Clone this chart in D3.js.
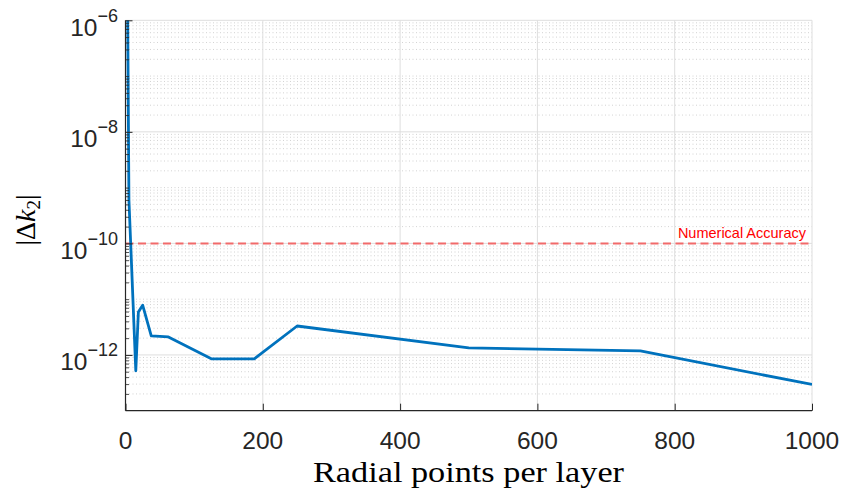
<!DOCTYPE html>
<html>
<head>
<meta charset="utf-8">
<script src="https://cdn.jsdelivr.net/npm/d3@7"></script>
<style>
  html, body { margin: 0; padding: 0; background: #fff; }
  svg { display: block; }
</style>
</head>
<body>
<div id="chart"></div>
<script>
// ---- data ----
const radialPoints = [1, 5, 15, 18.75, 25, 37.5, 62.5, 125, 187.5, 250, 500, 750, 1000];
const deltaK2 = [1e-2, 6e-10, 5.2e-13, 5.9e-12, 7.8e-12, 2.2e-12, 2.1e-12, 8.5e-13, 8.5e-13, 3.3e-12, 1.34e-12, 1.18e-12, 2.95e-13];
const xTicks = [0, 200, 400, 600, 800, 1000];
const yTickExps = [-12, -10, -8, -6];
const accuracyLevel = 1e-10;
const accuracyLabel = "Numerical Accuracy";
const xLabel = "Radial points per layer";

(function () {
const W = 845, H = 493;
const pL = 125.5, pR = 812, pT = 20.3, pB = 410.7;

const svg = d3.select("#chart").append("svg").attr("width", W).attr("height", H);

const x = d3.scaleLinear().domain([0, 1000]).range([pL, pR]);
const y = d3.scaleLog().domain([1e-13, 1e-6]).range([pB, pT]);

// minor grid values
const minorVals = [];
for (let e = -13; e < -6; e++) {
  for (let k = 1; k <= 9; k++) {
    const v = k * Math.pow(10, e);
    if (k === 1 && (yTickExps.includes(e) || e === -13)) continue;
    minorVals.push(v);
  }
}
const majorVals = yTickExps.map(e => Math.pow(10, e));

const grid = svg.append("g");
grid.selectAll("line.minor").data(minorVals).enter().append("line")
  .attr("x1", pL).attr("x2", pR)
  .attr("y1", d => y(d)).attr("y2", d => y(d))
  .attr("stroke", "#c8c8c8").attr("stroke-width", 0.8)
  .attr("stroke-dasharray", "1,2.5");
grid.selectAll("line.majy").data(majorVals).enter().append("line")
  .attr("x1", pL).attr("x2", pR)
  .attr("y1", d => y(d)).attr("y2", d => y(d))
  .attr("stroke", "#dedede").attr("stroke-width", 1);
grid.selectAll("line.majx").data(xTicks.filter(d => d > 0)).enter().append("line")
  .attr("x1", d => x(d)).attr("x2", d => x(d))
  .attr("y1", pT).attr("y2", pB)
  .attr("stroke", "#dedede").attr("stroke-width", 1);

// accuracy line
svg.append("line")
  .attr("x1", pL).attr("x2", pR)
  .attr("y1", y(accuracyLevel)).attr("y2", y(accuracyLevel))
  .attr("stroke", "#f26a6a").attr("stroke-width", 2)
  .attr("stroke-dasharray", "8,4.5");
svg.append("text")
  .attr("x", 806).attr("y", y(accuracyLevel) - 5)
  .attr("text-anchor", "end")
  .attr("font-family", "'Liberation Sans', Arial, sans-serif")
  .attr("font-size", 14.5).attr("fill", "#ff0000")
  .text(accuracyLabel);

// data line
svg.append("clipPath").attr("id", "clip").append("rect")
  .attr("x", pL).attr("y", pT).attr("width", pR - pL).attr("height", pB - pT);
const pts = radialPoints.map((d, i) => [d, deltaK2[i]]);
svg.append("path")
  .attr("clip-path", "url(#clip)")
  .attr("d", d3.line().x(d => x(d[0])).y(d => y(d[1]))(pts))
  .attr("fill", "none").attr("stroke", "#0072BD").attr("stroke-width", 2.8)
  .attr("stroke-linejoin", "round");

// axes
const axisColor = "#262626";
const xAxis = d3.axisBottom(x).tickValues(xTicks).tickSize(-7).tickPadding(0).tickFormat(() => "");
const gx = svg.append("g").attr("transform", `translate(0,${pB})`).call(xAxis);
gx.select(".domain").attr("stroke", axisColor).attr("stroke-width", 1.2).attr("d", `M${pL},0H${pR}`);
gx.selectAll(".tick line").attr("stroke", axisColor).attr("stroke-width", 1);

const yAxisMajor = d3.axisLeft(y).tickValues(majorVals).tickSize(-7).tickFormat(() => "");
const gy = svg.append("g").attr("transform", `translate(${pL},0)`).call(yAxisMajor);
gy.select(".domain").attr("stroke", axisColor).attr("stroke-width", 1.2).attr("d", `M0,${pT}V${pB}`);
gy.selectAll(".tick line").attr("stroke", axisColor).attr("stroke-width", 1);
const yAxisMinor = d3.axisLeft(y).tickValues(minorVals).tickSize(-3.5).tickFormat(() => "");
const gym = svg.append("g").attr("transform", `translate(${pL},0)`).call(yAxisMinor);
gym.select(".domain").remove();
gym.selectAll(".tick line").attr("stroke", axisColor).attr("stroke-width", 0.8);

// x tick labels
svg.append("g").selectAll("text").data(xTicks).enter().append("text")
  .attr("x", d => x(d)).attr("y", 449)
  .attr("text-anchor", "middle")
  .attr("font-family", "'Liberation Sans', Arial, sans-serif")
  .attr("font-size", 24.5).attr("fill", axisColor)
  .text(d => d);

// y tick labels
const yl = svg.append("g").selectAll("text").data(yTickExps).enter().append("text")
  .attr("x", 118).attr("y", d => y(Math.pow(10, d)) + 15.5)
  .attr("text-anchor", "end")
  .attr("font-family", "'Liberation Sans', Arial, sans-serif")
  .attr("fill", axisColor);
yl.append("tspan").attr("font-size", 24.5).text("10");
yl.append("tspan").attr("font-size", 18).attr("dy", -14).text(d => "\u2212" + Math.abs(d));

// x label
svg.append("text")
  .attr("x", 468.5).attr("y", 481.5)
  .attr("text-anchor", "middle")
  .attr("font-family", "'Liberation Serif', 'Times New Roman', serif")
  .attr("font-size", 28.5).attr("fill", "#000")
  .attr("textLength", 311).attr("lengthAdjust", "spacingAndGlyphs")
  .text(xLabel);

// y label |Δk2|
const ylab = svg.append("text")
  .attr("transform", "translate(35,220) rotate(-90)")
  .attr("text-anchor", "middle")
  .attr("font-family", "'Liberation Serif', 'Times New Roman', serif")
  .attr("font-size", 28).attr("fill", "#000");
ylab.append("tspan").text("|\u0394");
ylab.append("tspan").attr("font-style", "italic").text("k");
ylab.append("tspan").attr("font-size", 19).attr("dy", 5).text("2");
ylab.append("tspan").attr("dy", -5).text("|");
})();
</script>
</body>
</html>
